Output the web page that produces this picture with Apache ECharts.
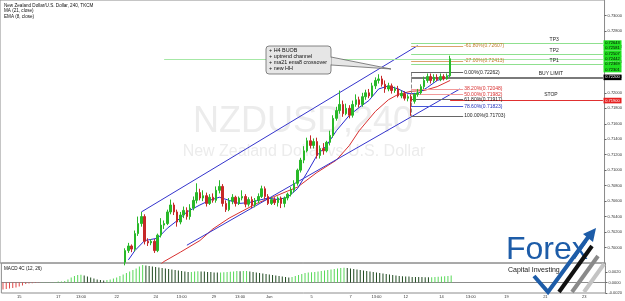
<!DOCTYPE html>
<html>
<head>
<meta charset="utf-8">
<script src="https://cdn.jsdelivr.net/npm/echarts@6.0.0/dist/echarts.min.js"></script>
<style>
html, body { margin: 0; padding: 0; background: #fff; }
#chart { width: 625px; height: 301px; }
</style>
</head>
<body>
<div id="chart"></div>
<script>
// H4 bars, index 0 = first bar on screen, 186 slots incl. empty space on the right
const barCount = 186;
const labelIdx = [5, 17, 24, 35, 47, 55, 65, 73, 82, 95, 107, 115, 124, 135, 144, 155, 167, 179];
const labelText = ['15', '17', '13:00', '22', '24', '13:00', '29', '13:00', 'Jun', '5', '7', '13:00', '12', '14', '13:00', '19', '21', '23'];

// candles: [open, close, low, high], first one sits at bar candleStart
const candleStart = 38;
const ohlc = [
  [0.6981,0.6996,0.6977,0.6999],[0.6996,0.7002,0.6993,0.7006],[0.7002,0.6998,0.6994,0.7004],[0.6998,0.7018,0.6995,0.7022],
  [0.7018,0.7031,0.7015,0.7040],[0.7031,0.7040,0.7027,0.7046],[0.7040,0.7008,0.7004,0.7043],[0.7008,0.7006,0.7002,0.7012],
  [0.7006,0.7008,0.7003,0.7011],[0.7008,0.6996,0.6993,0.7011],[0.6996,0.7016,0.6994,0.7018],[0.7016,0.7029,0.7013,0.7038],
  [0.7029,0.7031,0.7024,0.7035],[0.7031,0.7046,0.7029,0.7049],[0.7046,0.7055,0.7043,0.7062],[0.7055,0.7046,0.7042,0.7058],
  [0.7046,0.7033,0.7027,0.7049],[0.7033,0.7042,0.7030,0.7046],[0.7042,0.7048,0.7038,0.7053],[0.7048,0.7040,0.7036,0.7052],
  [0.7040,0.7051,0.7036,0.7056],[0.7051,0.7061,0.7048,0.7066],[0.7061,0.7071,0.7057,0.7083],[0.7071,0.7064,0.7061,0.7076],
  [0.7064,0.7067,0.7060,0.7074],[0.7067,0.7057,0.7053,0.7071],[0.7057,0.7065,0.7055,0.7069],[0.7065,0.7061,0.7058,0.7070],
  [0.7061,0.7074,0.7058,0.7079],[0.7074,0.7079,0.7070,0.7087],[0.7079,0.7057,0.7053,0.7082],[0.7057,0.7049,0.7046,0.7061],
  [0.7049,0.7060,0.7047,0.7064],[0.7060,0.7065,0.7056,0.7069],[0.7065,0.7057,0.7053,0.7067],[0.7057,0.7064,0.7055,0.7066],
  [0.7064,0.7066,0.7061,0.7074],[0.7066,0.7056,0.7052,0.7069],[0.7056,0.7062,0.7053,0.7065],[0.7062,0.7055,0.7051,0.7066],
  [0.7055,0.7061,0.7052,0.7064],[0.7061,0.7066,0.7057,0.7070],[0.7066,0.7076,0.7064,0.7080],[0.7076,0.7066,0.7062,0.7079],
  [0.7066,0.7057,0.7055,0.7069],[0.7057,0.7062,0.7055,0.7065],[0.7062,0.7058,0.7055,0.7065],[0.7058,0.7064,0.7053,0.7066],
  [0.7064,0.7057,0.7051,0.7066],[0.7057,0.7064,0.7052,0.7066],[0.7064,0.7069,0.7061,0.7071],[0.7069,0.7074,0.7066,0.7078],
  [0.7074,0.7083,0.7071,0.7087],[0.7083,0.7100,0.7080,0.7102],[0.7100,0.7113,0.7097,0.7116],[0.7113,0.7125,0.7109,0.7131],
  [0.7125,0.7138,0.7123,0.7142],[0.7138,0.7132,0.7128,0.7145],[0.7132,0.7137,0.7128,0.7141],[0.7137,0.7119,0.7115,0.7142],
  [0.7119,0.7128,0.7115,0.7132],[0.7128,0.7125,0.7120,0.7135],[0.7125,0.7136,0.7123,0.7138],[0.7136,0.7145,0.7132,0.7151],
  [0.7145,0.7167,0.7142,0.7171],[0.7167,0.7177,0.7164,0.7182],[0.7177,0.7185,0.7173,0.7203],[0.7185,0.7173,0.7169,0.7190],
  [0.7173,0.7180,0.7171,0.7186],[0.7180,0.7171,0.7167,0.7184],[0.7171,0.7185,0.7168,0.7190],[0.7185,0.7191,0.7182,0.7198],
  [0.7191,0.7185,0.7181,0.7195],[0.7185,0.7195,0.7182,0.7200],[0.7195,0.7200,0.7191,0.7204],[0.7200,0.7196,0.7193,0.7205],
  [0.7196,0.7209,0.7194,0.7213],[0.7209,0.7216,0.7205,0.7220],[0.7216,0.7218,0.7212,0.7224],[0.7218,0.7211,0.7208,0.7222],
  [0.7211,0.7205,0.7200,0.7216],[0.7205,0.7209,0.7202,0.7213],[0.7209,0.7203,0.7199,0.7212],[0.7203,0.7205,0.7200,0.7208],
  [0.7205,0.7196,0.7194,0.7209],[0.7196,0.7199,0.7193,0.7203],[0.7199,0.7193,0.7190,0.7202],[0.7193,0.7195,0.7189,0.7198],
  [0.7195,0.7189,0.71703,0.7198],[0.7189,0.7198,0.7186,0.7200],[0.7198,0.7200,0.7195,0.7205],[0.7200,0.7208,0.7198,0.7211],
  [0.7208,0.7216,0.7205,0.7221],[0.7216,0.7221,0.7213,0.7225],[0.7221,0.7216,0.7212,0.7225],[0.7216,0.7220,0.7213,0.7224],
  [0.7220,0.7217,0.7215,0.7224],[0.7217,0.7221,0.7215,0.7225],[0.7221,0.7218,0.7216,0.7224],[0.7218,0.7222,0.7217,0.7225],
  [0.7222,0.7244,0.7220,0.7248]
];

// moving averages: [bar, price]
const ma21 = [[47,0.6972],[50,0.6982],[55,0.6994],[61,0.7009],[65,0.7024],[70,0.7038],[74,0.7047],[79,0.7058],[84,0.7066],
  [88,0.7073],[91,0.7078],[97,0.7097],[103,0.7113],[107,0.7132],[110,0.7151],[115,0.7176],[119,0.7191],[122,0.7198],
  [126,0.7202],[130,0.7203],[134,0.7208],[138,0.7216]];
const ema8 = [[39,0.6984],[41,0.6996],[44,0.7009],[48,0.7012],[51,0.7025],[55,0.7038],[57,0.7046],[61,0.7055],[64,0.7061],
  [67,0.7065],[70,0.7061],[73,0.7057],[76,0.7058],[79,0.7061],[82,0.7064],[85,0.7062],[88,0.7065],[91,0.7076],[94,0.7097],
  [97,0.7119],[100,0.7132],[103,0.7151],[107,0.7171],[110,0.7181],[113,0.7190],[116,0.7205],[119,0.7209],[122,0.7205],
  [125,0.7199],[128,0.7199],[131,0.7207],[134,0.7216],[137,0.7220],[138,0.7224]];

// MACD 4C histogram, bars 0..138
const macd = [-0.00133,-0.00124,-0.00114,-0.00105,-0.00095,-0.00076,-0.00057,-0.00029,-0.00019,-0.00015,
  -0.0001,-0.00005,0.00002,0.00003,0.00005,0.00006,0.0001,0.00019,0.00019,0.00029,
  0.00057,0.00095,0.00124,0.00143,0.00145,0.00133,0.00114,0.00095,0.00076,0.00057,
  0.00048,0.00038,0.00048,0.00057,0.00076,0.00095,0.00124,0.00152,0.00181,0.00209,
  0.00238,0.00266,0.00304,0.00333,0.00323,0.00314,0.00304,0.00295,0.00285,0.00276,
  0.00266,0.00257,0.00247,0.00238,0.00228,0.00219,0.00209,0.00200,0.00201,0.00209,
  0.00212,0.00210,0.00208,0.00200,0.00198,0.00190,0.00188,0.00190,0.00192,0.00200,
  0.00203,0.00209,0.00219,0.00212,0.00218,0.00220,0.00210,0.00200,0.00190,0.00181,
  0.00171,0.00162,0.00152,0.00143,0.00133,0.00124,0.00114,0.00105,0.00095,0.00105,
  0.00124,0.00143,0.00162,0.00181,0.00190,0.00192,0.00200,0.00209,0.00219,0.00228,
  0.00238,0.00247,0.00257,0.00266,0.00276,0.00279,0.00276,0.00266,0.00257,0.00247,
  0.00238,0.00228,0.00219,0.00209,0.00200,0.00190,0.00181,0.00171,0.00162,0.00152,
  0.00143,0.00133,0.00124,0.00120,0.00114,0.00112,0.00105,0.00104,0.00103,0.00102,
  0.00101,0.00100,0.00101,0.00103,0.00110,0.00114,0.00120,0.00124,0.00133];

const priceTicks = [0.700,0.702,0.704,0.706,0.708,0.710,0.712,0.714,0.716,0.718,0.720,0.722,0.724,0.726,0.728,0.730];
const macdTicks = [-0.002, 0, 0.002];

// drawn objects
const channelUpper = [[43, 0.7046], [128, 0.7261]];
const channelLower = [[57, 0.7003], [141, 0.7205]];
const fibNames = ['-61.80%', '-27.00%', '0.00%', '38.20%', '50.00%', '61.80%', '78.60%', '100.00%'];
const fibPrices = [0.72607, 0.72413, 0.72262, 0.72048, 0.71982, 0.71917, 0.71823, 0.71703];
const tpNames = ['TP3', 'TP2', 'TP1'];
const tpPrices = [0.72640, 0.72500, 0.72370];
const resistance = 0.72440;
const buyLimit = 0.72200;
const stopLoss = 0.71900;
const tagPrices = [0.72643, 0.72581, 0.72507, 0.72442, 0.72369, 0.72301];

const categories = [];
const labelMap = {};
for (let i = 0; i < barCount; i++) categories.push(String(i));
labelIdx.forEach((k, j) => { labelMap[k] = labelText[j]; });

const candleData = ohlc.map((d, k) => [candleStart + k, d[0], d[1], d[2], d[3]]);

const fibLine = ['#dba36b', '#dba36b', '#666', '#f29a9a', '#f29a9a', '#666', '#4455d6', '#666'];
const fibText = ['#c47a2c', '#c47a2c', '#222', '#d83030', '#d83030', '#222', '#2233bb', '#222'];
const fibFrom = 126, fibTo = 142;

const lastBar = barCount - 1;
const seg = (a, b, style) => [{ coord: a, lineStyle: Object.assign({ type: 'solid' }, style) }, { coord: b }];

const levelLines = [
  seg(channelUpper[0], channelUpper[1], { color: '#3434cc', width: 1 }),
  seg(channelLower[0], channelLower[1], { color: '#3434cc', width: 1 }),
  seg([50, resistance], [lastBar, resistance], { color: '#a6e8a6', width: 1 }),
  seg([126, buyLimit], [lastBar, buyLimit], { color: '#7a7a7a', width: 2 }),
  seg([138, stopLoss], [lastBar, stopLoss], { color: '#e03030', width: 1 }),
  seg([fibFrom, fibPrices[2]], [fibFrom, fibPrices[7]], { color: '#888', width: 1, type: 'dashed' })
];
tpPrices.forEach(v => levelLines.push(seg([126, v], [lastBar, v], { color: '#8fe08f', width: 1 })));
fibPrices.forEach((v, k) => {
  const item = seg([fibFrom, v], [fibTo, v], { color: fibLine[k], width: 1 });
  item[0].label = {
    show: true, position: 'end', distance: 1, fontSize: 5, color: fibText[k],
    formatter: fibNames[k] + '(' + v.toFixed(5) + ')'
  };
  levelLines.push(item);
});

const tagPoint = (v, bg, fg) => ({
  coord: [lastBar, v], symbol: 'rect', symbolSize: [18, 5.6], symbolOffset: [9.6, 0],
  itemStyle: { color: bg },
  label: { show: true, position: 'inside', fontSize: 4, color: fg, formatter: v.toFixed(5) }
});
const textPoint = (bar, v, txt) => ({
  coord: [bar, v], symbol: 'rect', symbolSize: 1, itemStyle: { color: 'rgba(0,0,0,0)' },
  label: { show: true, position: 'top', distance: 1, fontSize: 5, color: '#222', formatter: txt }
});
const points = tagPrices.map(v => tagPoint(v, '#21e021', '#000'));
points.push(tagPoint(buyLimit, '#000', '#fff'));
points.push(tagPoint(stopLoss, '#e52020', '#fff'));
tpNames.forEach((n, k) => points.push(textPoint(170, tpPrices[k], n)));
points.push(textPoint(169, buyLimit, 'BUY LIMIT'));
points.push(textPoint(169, stopLoss + 0.0002, 'STOP'));

const font = 'Liberation Sans';
const chart = echarts.init(document.getElementById('chart'));
const option = {
  animation: false,
  textStyle: { fontFamily: font },
  grid: [
    { left: 0, right: 18, top: 0, height: 263, show: true, borderColor: '#8c8c8c', borderWidth: 1 },
    { left: 0, right: 18, top: 263, height: 30, show: true, borderColor: '#8c8c8c', borderWidth: 1 }
  ],
  xAxis: [
    {
      type: 'category', gridIndex: 0, data: categories, boundaryGap: true,
      axisLine: { show: false }, axisTick: { show: false }, axisLabel: { show: false }
    },
    {
      type: 'category', gridIndex: 1, data: categories, boundaryGap: true,
      axisLine: { lineStyle: { color: '#8c8c8c' } },
      axisTick: { alignWithLabel: true, length: 2, lineStyle: { color: '#666' }, interval: i => labelMap[i] !== undefined },
      axisLabel: { interval: 0, fontSize: 4, color: '#333', margin: 2, formatter: (v, i) => labelMap[i] || '' }
    }
  ],
  yAxis: [
    {
      type: 'value', gridIndex: 0, position: 'right', min: 0.698, max: 0.732, scale: true,
      splitLine: { show: false },
      axisLine: { show: true, lineStyle: { color: '#8c8c8c' } },
      axisTick: { show: true, length: 2, customValues: priceTicks, lineStyle: { color: '#666' } },
      axisLabel: { customValues: priceTicks, fontSize: 4, color: '#333', margin: 3, formatter: v => v.toFixed(5) }
    },
    {
      type: 'value', gridIndex: 1, position: 'right', min: -0.002, max: 0.0037,
      splitLine: { show: false },
      axisLine: { show: true, lineStyle: { color: '#8c8c8c' } },
      axisTick: { show: true, length: 2, customValues: macdTicks, lineStyle: { color: '#666' } },
      axisLabel: { customValues: macdTicks, fontSize: 4, color: '#333', margin: 3, formatter: v => v.toFixed(4) }
    }
  ],
  graphic: [
    { type: 'text', z: 0, style: { text: 'NZDUSD,240', x: 303, y: 122, align: 'center', verticalAlign: 'middle', font: '36px ' + font, fill: '#ececec' } },
    { type: 'text', z: 0, style: { text: 'New Zealand Dollar vs U.S. Dollar', x: 304, y: 152, align: 'center', verticalAlign: 'middle', font: '16px ' + font, fill: '#ececec' } },
    { type: 'text', z: 10, style: { text: 'New Zealand Dollar/U.S. Dollar, 240, TKCM', x: 4, y: 5.7, verticalAlign: 'middle', font: '4.6px ' + font, fill: '#111' } },
    { type: 'text', z: 10, style: { text: 'MA (21, close)', x: 4, y: 11, verticalAlign: 'middle', font: '4.6px ' + font, fill: '#111' } },
    { type: 'text', z: 10, style: { text: 'EMA (8, close)', x: 4, y: 16.7, verticalAlign: 'middle', font: '4.6px ' + font, fill: '#111' } },
    { type: 'text', z: 10, style: { text: 'MACD 4C (12, 26)', x: 4, y: 269, verticalAlign: 'middle', font: '4.6px ' + font, fill: '#111' } },
    // callout
    { type: 'polygon', z: 20, shape: { points: [[331, 57], [331, 65], [391, 69]] }, style: { fill: '#e6e6e6', stroke: '#555', lineWidth: 0.7 } },
    { type: 'rect', z: 21, shape: { x: 266, y: 46, width: 65, height: 28, r: 3 }, style: { fill: '#e6e6e6', stroke: '#555', lineWidth: 0.7 } },
    { type: 'rect', z: 22, shape: { x: 330, y: 57.5, width: 1.5, height: 7 }, style: { fill: '#e6e6e6' } },
    { type: 'text', z: 23, style: { text: '+ H4 BUOB\n+ uptrend channel\n+ ma21 ema8 crossover\n+ new HH', x: 269, y: 48, font: '5.4px ' + font, lineHeight: 6, fill: '#111' } },
    // logo
    { type: 'text', z: 30, style: { text: 'Forex', x: 506, y: 234, font: '32px ' + font, fill: '#1d5ca8' } },
    { type: 'text', z: 30, style: { text: 'Capital Investing', x: 508, y: 267, font: '7px ' + font, fill: '#222' } },
    { type: 'polyline', z: 31, shape: { points: [[584, 292], [604, 264]] }, style: { stroke: '#c4c4c4', lineWidth: 4 } },
    { type: 'polyline', z: 31, shape: { points: [[572, 292], [598, 256]] }, style: { stroke: '#8a8a8a', lineWidth: 4 } },
    { type: 'polyline', z: 31, shape: { points: [[559, 292], [592, 246]] }, style: { stroke: '#111', lineWidth: 4 } },
    { type: 'polyline', z: 32, shape: { points: [[534, 276], [548, 292], [589, 236]] }, style: { stroke: '#1d5ca8', lineWidth: 4 } },
    { type: 'polygon', z: 32, shape: { points: [[583, 234], [596, 228], [593, 242]] }, style: { fill: '#1d5ca8' } }
  ],
  series: [
    {
      name: 'NZDUSD', type: 'candlestick', xAxisIndex: 0, yAxisIndex: 0, z: 5,
      data: candleData, encode: { x: 0, y: [1, 2, 3, 4] }, barWidth: 2, clip: true,
      itemStyle: { color: '#28b828', color0: '#c62828', borderColor: '#28b828', borderColor0: '#c62828', borderWidth: 1 }
    },
    {
      name: 'MA21', type: 'line', xAxisIndex: 0, yAxisIndex: 0, z: 4, data: ma21,
      symbol: 'none', clip: true, lineStyle: { color: '#d83030', width: 1 }
    },
    {
      name: 'EMA8', type: 'line', xAxisIndex: 0, yAxisIndex: 0, z: 4, data: ema8,
      symbol: 'none', clip: true, lineStyle: { color: '#2a2ad0', width: 1 }
    },
    {
      name: 'levels', type: 'line', xAxisIndex: 0, yAxisIndex: 0, z: 3, data: [],
      markLine: {
        silent: true, symbol: ['none', 'none'], animation: false,
        lineStyle: { type: 'solid' }, label: { show: false }, data: levelLines
      },
      markPoint: { silent: true, animation: false, data: points }
    },
    {
      name: 'MACD', type: 'bar', xAxisIndex: 1, yAxisIndex: 1, data: macd, barWidth: 1,
      itemStyle: {
        color: p => {
          const v = macd[p.dataIndex];
          const prev = p.dataIndex > 0 ? macd[p.dataIndex - 1] : v;
          if (v < 0) return '#e04848';
          return v >= prev ? '#58d858' : '#1f4a1f';
        }
      }
    }
  ]
};
chart.setOption(option);
</script>
</body>
</html>
